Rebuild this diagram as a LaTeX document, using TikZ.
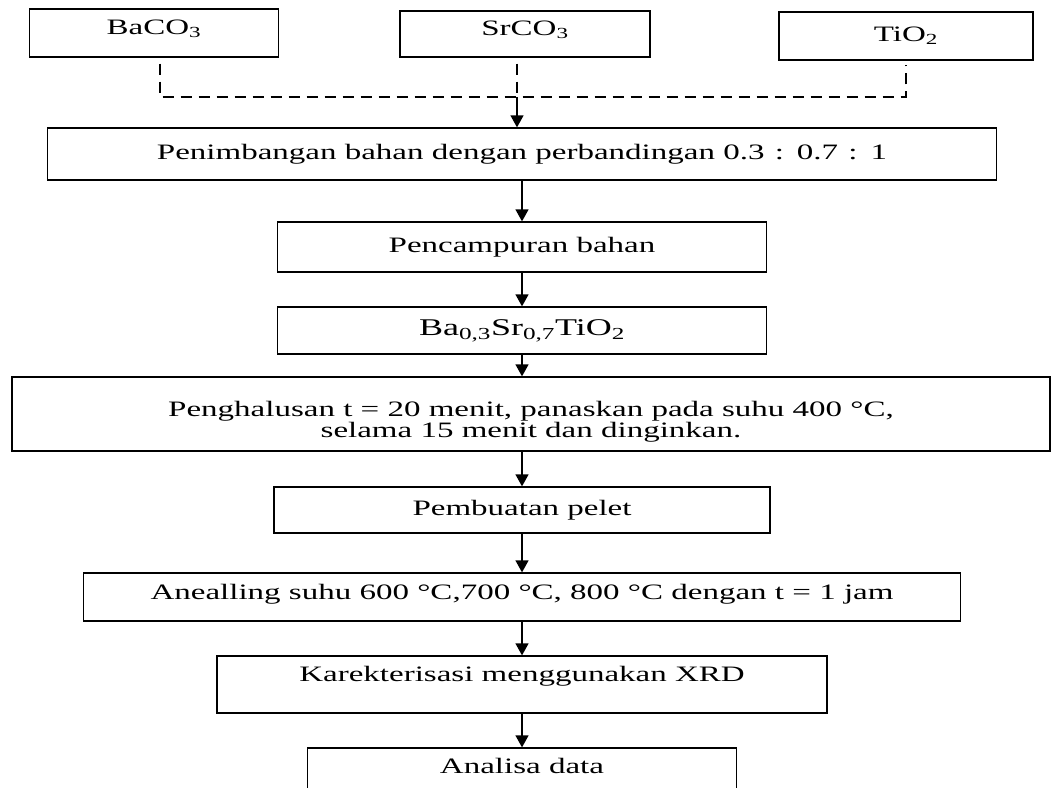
\documentclass[tikz,border=0pt]{standalone}
\usepackage{fontspec}
\setmainfont[FakeStretch=1.5]{Liberation Serif}
\usetikzlibrary{arrows.meta}
\usetikzlibrary{positioning}

\tikzset{
  kotak/.style={draw, line width=1.3pt, inner sep=0pt, align=center,
    font=\fontsize{22}{22}\selectfont},
  panah/.style={-{Triangle[width=13pt,length=12pt]}, line width=1.3pt},
  putus/.style={line width=1.3pt, dash pattern=on 11pt off 7pt},
}

\begin{document}
\begin{tikzpicture}[x=1pt, y=-1pt]
    \useasboundingbox (0,0) rectangle (1056,787);
    \def\kx{522}; % centre x of the flow boxes

    % bahan awal %%%%%%%%%%%%%%%%%%%%%%%%%%%%%%%%%%%%%%%%%%%%%%%%%%%%%%%%%%%%%
    \node[kotak, minimum width=249pt, minimum height=48pt, text depth=12pt] (ba) at (154,33) {BaCO\textsubscript{3}};
    \node[kotak, minimum width=250pt, minimum height=46pt, text depth=12pt] (sr) at (525,34) {SrCO\textsubscript{3}};
    \node[kotak, minimum width=254pt, minimum height=48pt] (ti) at (906,36) {TiO\textsubscript{2}};
    \coordinate (gabung) at (517,97);

    % langkah proses %%%%%%%%%%%%%%%%%%%%%%%%%%%%%%%%%%%%%%%%%%%%%%%%%%%%%%%%%%
    \node[kotak, minimum width=949pt, minimum height=52pt] (b1) at (\kx,154)
        {Penimbangan bahan dengan perbandingan 0.3\hspace{2pt} : \hspace{2pt}0.7\hspace{2pt} : \hspace{2pt}1};
    \node[kotak, minimum width=489pt, minimum height=50pt] (b2) at (\kx,247) {Pencampuran bahan};
    \node[kotak, minimum width=489pt, minimum height=47pt,
          font=\fontsize{24}{24}\selectfont] (b3) at (\kx,330.5)
        {Ba\textsubscript{0,3}Sr\textsubscript{0,7}TiO\textsubscript{2}};
    \node[kotak, minimum width=1038pt, minimum height=74pt,
          font=\fontsize{22}{17}\selectfont] (b4) at (531,414)
        {\rule{0pt}{31pt}Penghalusan t = 20 menit, panaskan pada suhu 400 °C,\\selama 15 menit dan dinginkan.};
    \node[kotak, minimum width=496pt, minimum height=46pt] (b5) at (\kx,510) {Pembuatan pelet};
    \node[kotak, minimum width=877pt, minimum height=48pt, text depth=11pt] (b6) at (\kx,597)
        {Anealling suhu 600 °C,700 °C, 800 °C dengan t = 1 jam};
    \node[kotak, minimum width=610pt, minimum height=57pt, text depth=21pt] (b7) at (\kx,684.5)
        {Karekterisasi menggunakan XRD};
    \node[kotak, minimum width=429pt, minimum height=50pt, text depth=15pt] (b8) at (\kx,773) {Analisa data};

    % garis putus-putus %%%%%%%%%%%%%%%%%%%%%%%%%%%%%%%%%%%%%%%%%%%%%%%%%%%%%%%
    \draw[putus] ([xshift=6pt, yshift=-6pt]ba.south) -- ([xshift=6pt]ba.south |- gabung)
        -- (ti.south |- gabung) -- ([yshift=-4pt]ti.south);
    \draw[putus] ([yshift=-6pt]gabung |- sr.south) -- (gabung);

    % panah %%%%%%%%%%%%%%%%%%%%%%%%%%%%%%%%%%%%%%%%%%%%%%%%%%%%%%%%%%%%%%%%%%%
    \draw[panah] (gabung) -- (gabung |- b1.north);
    \foreach \a/\b in {b1/b2, b2/b3, b5/b6, b6/b7, b7/b8}{
      \draw[panah] (\a) -- (\b);
    }
    \draw[panah] (b3) -- (b3 |- b4.north);
    \draw[panah] (b5 |- b4.south) -- (b5);
\end{tikzpicture}
\end{document}
